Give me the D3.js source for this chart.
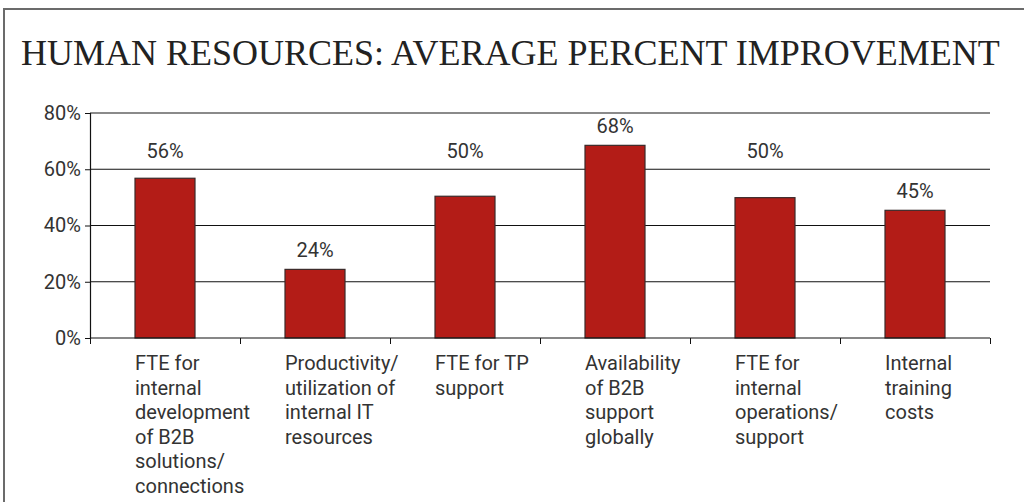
<!DOCTYPE html>
<html>
<head>
<meta charset="utf-8">
<script src="https://cdn.jsdelivr.net/npm/d3@7"></script>
<style>
  body { margin: 0; background: #fff; }
  svg { display: block; }
</style>
</head>
<body>
<div id="chart"></div>
<script>
const title = "HUMAN RESOURCES: AVERAGE PERCENT IMPROVEMENT";
const categories = [
  ["FTE for", "internal", "development", "of B2B", "solutions/", "connections"],
  ["Productivity/", "utilization of", "internal IT", "resources"],
  ["FTE for TP", "support"],
  ["Availability", "of B2B", "support", "globally"],
  ["FTE for", "internal", "operations/", "support"],
  ["Internal", "training", "costs"]
];
const values = [56.8, 24.4, 50.4, 68.5, 49.9, 45.4];
const valueLabels = ["56%", "24%", "50%", "68%", "50%", "45%"];
const yTicks = [0, 20, 40, 60, 80];

const W = 1024, H = 502;
const margin = ({ top: 113, right: 34, bottom: 164, left: 90 });
const width = W - margin.left - margin.right,
      height = H - margin.top - margin.bottom;

const svg = d3.select("#chart").append("svg")
    .attr("width", W)
    .attr("height", H);

// frame
svg.append("path")
    .attr("d", `M4,${H} V9 H${W}`)
    .attr("fill", "none")
    .attr("stroke", "#6b6b6b")
    .attr("stroke-width", 2);

// title, fitted to the width it takes in the original
const titleText = svg.append("text")
    .attr("x", 21)
    .attr("y", 65)
    .attr("font-family", "'Liberation Serif', 'DejaVu Serif', serif")
    .attr("font-size", 36)
    .attr("fill", "#222")
    .text(title);
const natural = titleText.node().getComputedTextLength();
if (natural > 990) titleText.attr("font-size", 36 * 990 / natural);

const g = svg.append("g")
    .attr("transform", `translate(${margin.left},${margin.top})`);

const xScale = d3.scaleBand()
    .domain(d3.range(categories.length))
    .range([0, width])
    .paddingInner(0.6)
    .paddingOuter(0.3);
const yScale = d3.scaleLinear().domain([0, 80]).range([height, 0]);

// gridlines
g.append("g")
    .selectAll("line")
    .data(yTicks.filter(d => d > 0))
    .join("line")
    .attr("x1", 0)
    .attr("x2", width)
    .attr("y1", d => yScale(d))
    .attr("y2", d => yScale(d))
    .attr("stroke", d => d === 80 ? "#8a8a8a" : "#111")
    .attr("stroke-width", d => d === 80 ? 2 : 1.2);

// y axis
const yAxis = d3.axisLeft(yScale)
    .tickValues(yTicks)
    .tickSize(5)
    .tickPadding(4)
    .tickFormat(d => d + "%");
g.append("g")
    .attr("class", "axis y-axis")
    .call(yAxis)
    .call(a => a.select(".domain").attr("stroke", "#111").attr("stroke-width", 1.2))
    .call(a => a.selectAll(".tick line").attr("stroke", "#111"))
    .call(a => a.selectAll("text")
        .attr("font-family", "Roboto, sans-serif")
        .attr("font-size", 20)
        .attr("fill", "#333"));

// bars
g.selectAll(".bar")
    .data(values)
    .join("rect")
    .attr("class", "bar")
    .attr("x", (d, i) => xScale(i))
    .attr("y", d => yScale(d))
    .attr("width", xScale.bandwidth())
    .attr("height", d => height - yScale(d))
    .attr("fill", "#b31c17")
    .attr("stroke", "#3a2a2a")
    .attr("stroke-width", 1.2);

// x axis with ticks between categories
const xEdges = d3.scaleLinear().domain([0, categories.length]).range([0, width]);
const xAxis = d3.axisBottom(xEdges)
    .ticks(categories.length)
    .tickSize(6)
    .tickFormat("");
g.append("g")
    .attr("class", "axis x-axis")
    .attr("transform", `translate(0,${height})`)
    .call(xAxis)
    .call(a => a.select(".domain").attr("stroke", "#111").attr("stroke-width", 1.2).attr("d", `M0,0H${width}`))
    .call(a => a.selectAll(".tick line").attr("stroke", "#111"));

// value labels: just above bar, pushed above a gridline they would touch
function labelBaseline(v) {
  let base = yScale(v) - 12;
  const top = base - 15;
  yTicks.forEach(t => {
    const gy = yScale(t);
    if (t > 0 && gy > top - 4 && gy < base + 4) base = gy - 11;
  });
  return base;
}
g.selectAll(".value")
    .data(values)
    .join("text")
    .attr("class", "value")
    .attr("x", (d, i) => xScale(i) + xScale.bandwidth() / 2)
    .attr("y", d => labelBaseline(d))
    .attr("text-anchor", "middle")
    .attr("font-family", "Roboto, sans-serif")
    .attr("font-size", 20)
    .attr("fill", "#333")
    .text((d, i) => valueLabels[i]);

// category labels
const cat = g.selectAll(".cat")
    .data(categories)
    .join("text")
    .attr("class", "cat")
    .attr("x", (d, i) => xScale(i))
    .attr("y", height + 32)
    .attr("font-family", "Roboto, sans-serif")
    .attr("font-size", 20)
    .attr("fill", "#333");
cat.selectAll("tspan")
    .data(d => d)
    .join("tspan")
    .attr("x", function () { return this.parentNode.getAttribute("x"); })
    .attr("dy", (d, i) => i === 0 ? 0 : 24.6)
    .text(d => d);
</script>
</body>
</html>
